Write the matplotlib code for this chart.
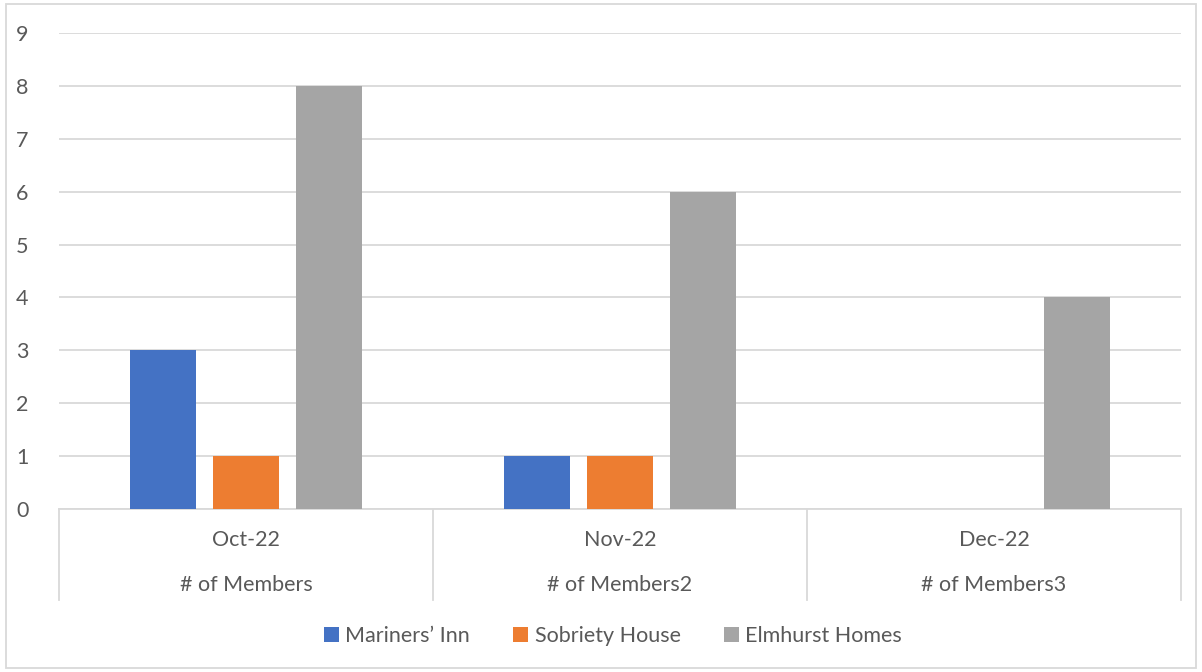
import matplotlib
matplotlib.use("Agg")
import matplotlib.pyplot as plt
import matplotlib.transforms as mtransforms
from matplotlib.patches import Rectangle, Patch
import numpy as np

months = ["Oct-22", "Nov-22", "Dec-22"]
groups = ["# of Members", "# of Members2", "# of Members3"]
series = ["Mariners\u2019 Inn", "Sobriety House", "Elmhurst Homes"]
mariners = [3, 1, 0]
sobriety = [1, 1, 0]
elmhurst = [8, 6, 4]
yticks = list(range(0, 10))

colors = ["#4472C4", "#ED7D31", "#A5A5A5"]
text_color = "#595959"
grid_color = "#D9D9D9"
fs = 15.5

plt.rcParams["font.family"] = ["Lato", "DejaVu Sans"]

W, H = 1202, 672
fig = plt.figure(figsize=(W / 100, H / 100), dpi=100)
ax = fig.add_axes([59 / W, 1 - 509 / H, (1181 - 59) / W, (509 - 33) / H])

x = np.arange(len(months))
width = 0.174
offsets = [-0.222, 0.0, 0.222]
for vals, off, c, name in zip([mariners, sobriety, elmhurst], offsets, colors, series):
    vals = np.array(vals, dtype=float)
    mask = vals > 0
    ax.bar(x[mask] + off, vals[mask], width, color=c, zorder=3)

ax.set_xlim(-0.5, len(months) - 0.5)
ax.set_ylim(0, 9)
ax.set_yticks(yticks)
ax.set_yticklabels([str(v) for v in yticks], fontsize=fs, color=text_color)
ax.tick_params(axis="y", length=0, pad=22)
ax.set_xticks([])
ax.yaxis.grid(True, color=grid_color, linewidth=1.3, zorder=0)
for s in ["top", "right", "left"]:
    ax.spines[s].set_visible(False)
ax.spines["bottom"].set_color(grid_color)
ax.spines["bottom"].set_linewidth(1.3)

trans = mtransforms.blended_transform_factory(ax.transData, ax.transAxes)
for b in np.arange(len(months) + 1) - 0.5:
    ax.plot([b, b], [0, -0.191], transform=trans, color=grid_color,
            linewidth=1.3, clip_on=False)
for i, (m, g) in enumerate(zip(months, groups)):
    ax.text(i, -0.065, m, transform=trans, ha="center", va="center",
            fontsize=fs, color=text_color)
    ax.text(i, -0.160, g, transform=trans, ha="center", va="center",
            fontsize=fs, color=text_color)

handles = [Patch(facecolor=c, edgecolor="none") for c in colors]
fig.legend(handles, series, loc="center", bbox_to_anchor=(613 / W, 1 - 636 / H),
           ncol=3, frameon=False, fontsize=fs, handlelength=0.7, handleheight=0.7,
           handletextpad=0.3, columnspacing=2.0, labelcolor=text_color)

fig.patches.append(Rectangle((6 / W, 4 / H), (1196 - 6) / W, (668 - 4) / H,
                             transform=fig.transFigure, fill=False,
                             edgecolor=grid_color, linewidth=1.3))

fig.savefig("out.png", dpi=100)
